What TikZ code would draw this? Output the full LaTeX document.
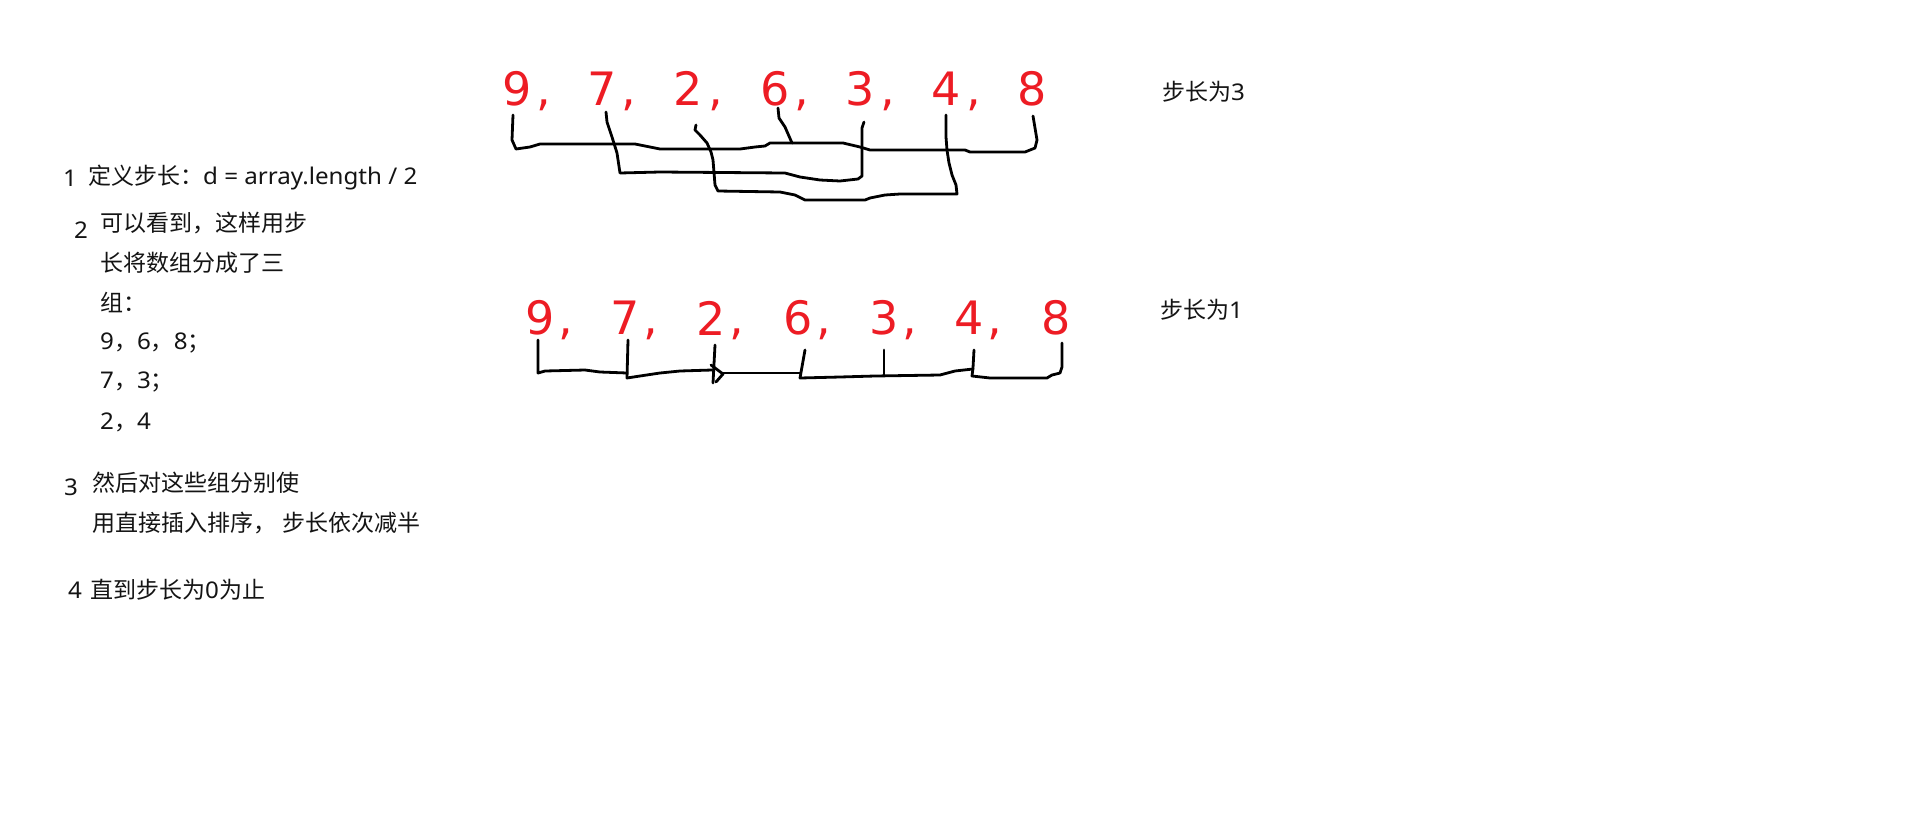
\documentclass[tikz,border=0pt]{standalone}
\usepackage{fontspec}
\setmainfont{Noto Sans}[FakeStretch=1.05]
\newfontfamily\cjk{Noto Sans CJK SC}
\newfontfamily\digitfont{DejaVu Sans}
\newcommand{\zh}[1]{{\cjk #1}}
\definecolor{numred}{RGB}{237,28,36}
\tikzset{
  dig/.style={text=numred, font=\digitfont\fontsize{46}{46}\selectfont, inner sep=0pt},
  cma/.style={text=numred, font=\digitfont\fontsize{46}{46}\selectfont, inner sep=0pt, anchor=base},
  txt/.style={font=\fontsize{23}{23}\selectfont, inner sep=0pt, anchor=west, text=black!92},
  hand/.style={line width=2.8pt, line join=round, line cap=round, black},
}
\begin{document}
\begin{tikzpicture}[x=1pt,y=-1pt]
\useasboundingbox[fill=white] (0,0) rectangle (1914,817);

% top row
\foreach \n/\x in {9/517,7/602,2/688,6/775,3/860,4/946,8/1032}
  \node[dig] (t\n) at (\x,88.5) {\n};
\foreach \x [count=\i] in {544,629,716,802,888,974}
  \node[cma] (tc\i) at (\x,105) {,};

% bottom row
\foreach \n/\x in {9/540,7/625,2/711,6/798,3/884,4/969,8/1056}
  \node[dig] (b\n) at (\x,318) {\n};
\foreach \x [count=\i] in {566,651,737,824,910,995}
  \node[cma] (bc\i) at (\x,334) {,};

% labels right
\node[txt] (s3) at (1162,92) {\zh{步长为}3};
\node[txt] (s1) at (1160,310) {\zh{步长为}1};

% left text
\node[txt] (n1) at (63,178) {1};
\node[txt] (l1) at (88,178) {\zh{定义步长：}d = array.length / 2};
\node[txt] (n2) at (74,230) {2};
\node[txt] (l2a) at (100,223) {\zh{可以看到，这样用步}};
\node[txt] (l2b) at (100,263) {\zh{长将数组分成了三}};
\node[txt] (l2c) at (100,303) {\zh{组：}};
\node[txt] (l2d) at (100,343) {9\zh{，}6\zh{，}8\zh{；}};
\node[txt] (l2e) at (100,382) {7\zh{，}3\zh{；}};
\node[txt] (l2f) at (100,422) {2\zh{，}4};
\node[txt] (n3) at (64,487) {3};
\node[txt] (l3a) at (92,483) {\zh{然后对这些组分别使}};
\node[txt] (l3b) at (92,523) {\zh{用直接插入排序，} \zh{步长依次减半}};
\node[txt] (n4) at (68,590) {4};
\node[txt] (l4) at (90,590) {\zh{直到步长为}0\zh{为止}};

% top brackets: 9-6-8
\draw[hand] (513,115) -- (512,140) -- (516,149) -- (530,147) -- (540,144) -- (635,144) -- (655,148) -- (660,149) -- (740,149) -- (755,147) -- (765,146) -- (770,143) -- (843,143) -- (860,147) -- (870,150) -- (965,150) -- (970,152) -- (1025,152) -- (1035,148) -- (1037,140) -- (1035,128) -- (1033,116);
\draw[hand] (778,108) -- (779,118) -- (785,127) -- (792,143);
% 7-3
\draw[hand] (606,112) -- (607,122) -- (612,137) -- (617,153) -- (620,173) -- (660,172) -- (785,173) -- (800,177) -- (820,180) -- (840,181) -- (858,179) -- (862,176) -- (862,128) -- (864,122);
% 2-4
\draw[hand] (696,125) -- (695,130) -- (700,135) -- (707,143) -- (711,152) -- (713,160) -- (715,185) -- (718,191) -- (780,192) -- (795,195) -- (805,200) -- (865,200) -- (870,198) -- (885,195) -- (900,194) -- (957,194) -- (956,185) -- (952,175) -- (949,163) -- (947,150) -- (946,137) -- (946,115);

% bottom bracket
\draw[hand] (538,340) -- (538,373) -- (545,371) -- (585,370) -- (600,372) -- (627,373);
\draw[hand] (628,340) -- (627,378) -- (640,376) -- (660,373) -- (680,371) -- (712,370);
\draw[hand] (715,345) -- (713,383);
\draw[hand] (711,365) -- (723,374) -- (716,382);
\draw[hand] (723,373) -- (800,373);
\draw[hand] (805,350) -- (800,378) -- (840,377) -- (875,376) -- (940,375) -- (955,371) -- (973,369);
\draw[hand] (884,350) -- (884,375);
\draw[hand] (974,350) -- (973,368) -- (972,376) -- (990,378) -- (1047,378) -- (1052,375) -- (1060,373) -- (1062,367) -- (1062,343);
\end{tikzpicture}
\end{document}
